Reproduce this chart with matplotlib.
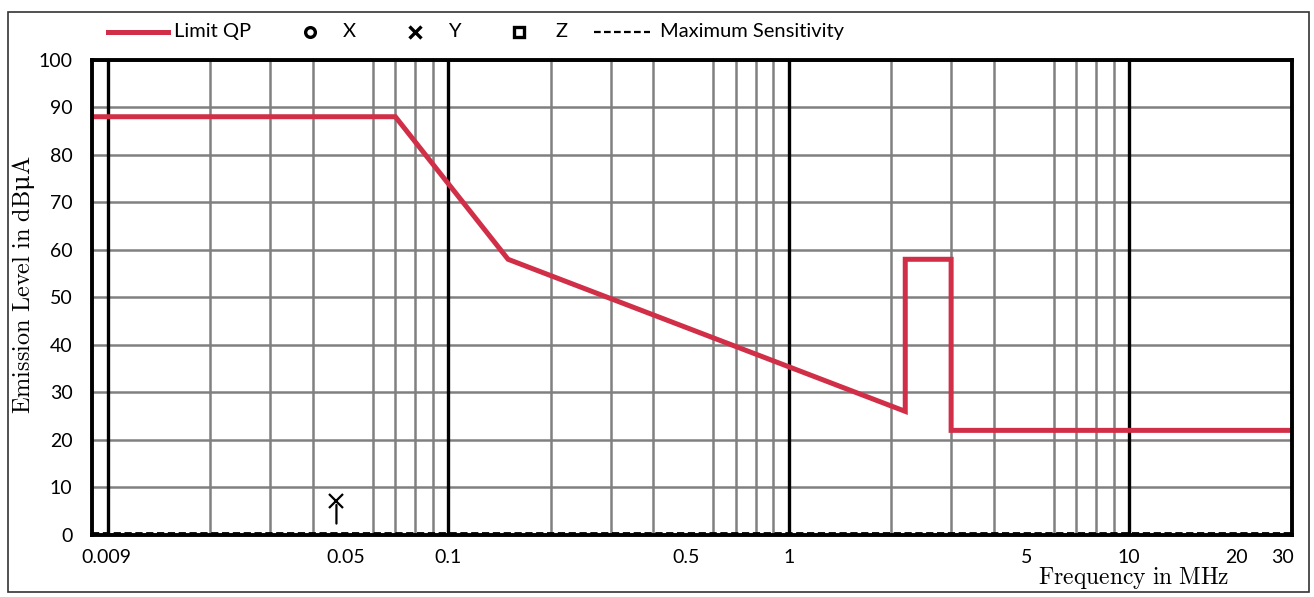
import matplotlib.pyplot as plt
import matplotlib.transforms as mtransforms
from matplotlib.lines import Line2D
from matplotlib.patches import Rectangle

# limit line (QP)
limit_freq = [0.009, 0.07, 0.15, 2.2, 2.2, 3.0, 3.0, 30]
limit_db = [88, 88, 58, 26, 58, 58, 22, 22]

# maximum sensitivity (dashed, sits on the bottom axis)
sens_freq = [0.009, 30]
sens_db = [0.5, 0.5]

# one "Y" measurement point with an arrow
y_freq = [0.047]
y_db = [7.2]

xtick_vals = [0.009, 0.05, 0.1, 0.5, 1, 5, 10, 20, 30]
xtick_labels = ['0.009', '0.05', '0.1', '0.5', '1', '5', '10', '20', '30']
ytick_vals = list(range(0, 101, 10))

legend_labels = ['Limit QP', 'X', 'Y', 'Z', 'Maximum Sensitivity']

red = '#d12e47'
grid_gray = '#808080'

plt.rcParams['font.family'] = ['Lato', 'DejaVu Sans']
plt.rcParams['mathtext.fontset'] = 'cm'

fig = plt.figure(figsize=(13.14, 5.97), dpi=100)
ax = fig.add_axes([0.070, 0.104, 0.913, 0.796])

ax.set_xscale('log')
ax.set_xlim(0.009, 30)
ax.set_ylim(0, 100)

# grid
ax.set_yticks(ytick_vals)
ax.grid(axis='y', which='major', color=grid_gray, lw=1.8, zorder=1)
ax.xaxis.set_minor_locator(plt.LogLocator(base=10, subs=range(2, 10)))
ax.grid(axis='x', which='minor', color=grid_gray, lw=1.8, zorder=1)
for dec in [0.01, 0.1, 1, 10]:
    ax.axvline(dec, color='black', lw=2.4, zorder=2)

ax.plot(limit_freq, limit_db, color=red, lw=3.6, solid_joinstyle='miter', zorder=4)
ax.plot(sens_freq, sens_db, color='black', lw=1.3, ls=(0, (4, 2)), zorder=3)
ax.plot(y_freq, y_db, 'x', color='black', ms=10, mew=1.6, zorder=5)
ax.annotate('', xy=(y_freq[0], y_db[0] - 0.3), xytext=(y_freq[0], 1.8),
            arrowprops=dict(arrowstyle='-', color='black', lw=1.6), zorder=5)

for s in ax.spines.values():
    s.set_linewidth(2.8)
    s.set_color('black')
    s.set_zorder(6)

ax.set_xticks(xtick_vals)
ax.set_xticklabels(xtick_labels)
ax.tick_params(which='both', length=0)
ax.tick_params(axis='x', labelsize=14, pad=10)
ax.tick_params(axis='y', labelsize=14, pad=14)

labels = ax.get_xticklabels()
labels[0].set_transform(labels[0].get_transform() +
                        mtransforms.ScaledTranslation(0.14, 0, fig.dpi_scale_trans))
labels[-1].set_transform(labels[-1].get_transform() +
                         mtransforms.ScaledTranslation(-0.09, 0, fig.dpi_scale_trans))
labels[-2].set_transform(labels[-2].get_transform() +
                         mtransforms.ScaledTranslation(0.05, 0, fig.dpi_scale_trans))

ax.set_ylabel(r'$\mathrm{Emission\ Level\ in\ dB}$μ$\mathrm{A}$', fontsize=17.5,
              family='DejaVu Serif')
ax.yaxis.set_label_coords(-0.046, 0.526)
fig.text(0.863, 0.021, r'$\mathrm{Frequency\ in\ MHz}$', fontsize=17, ha='center',
         va='baseline')

# legend drawn across the top, like the original
ly = 0.947
def fx(px):
    return px / 1314

fig.add_artist(Line2D([fx(108), fx(168)], [ly, ly], color=red, lw=3.6))
fig.add_artist(Line2D([fx(310)], [ly], marker='o', color='black', ms=7, mew=2.4,
                      mfc='white', ls='none'))
fig.add_artist(Line2D([fx(415)], [ly], marker='x', color='black', ms=8, mew=2.4, ls='none'))
fig.add_artist(Line2D([fx(519)], [ly], marker='s', color='black', ms=7, mew=2.4,
                      mfc='white', ls='none'))
fig.add_artist(Line2D([fx(594), fx(650)], [ly, ly], color='black', lw=1.6,
                      ls=(0, (3, 1.5))))
for px, txt in zip([174, 343, 448, 555, 660], legend_labels):
    fig.text(fx(px), ly, txt, fontsize=14.5, ha='left', va='center')

# outer frame around the whole picture
fig.patches.append(Rectangle((0.006, 0.008), 0.990, 0.972, transform=fig.transFigure,
                             fill=False, edgecolor='#333333', lw=1.2))

fig.savefig('out.png', dpi=100)
